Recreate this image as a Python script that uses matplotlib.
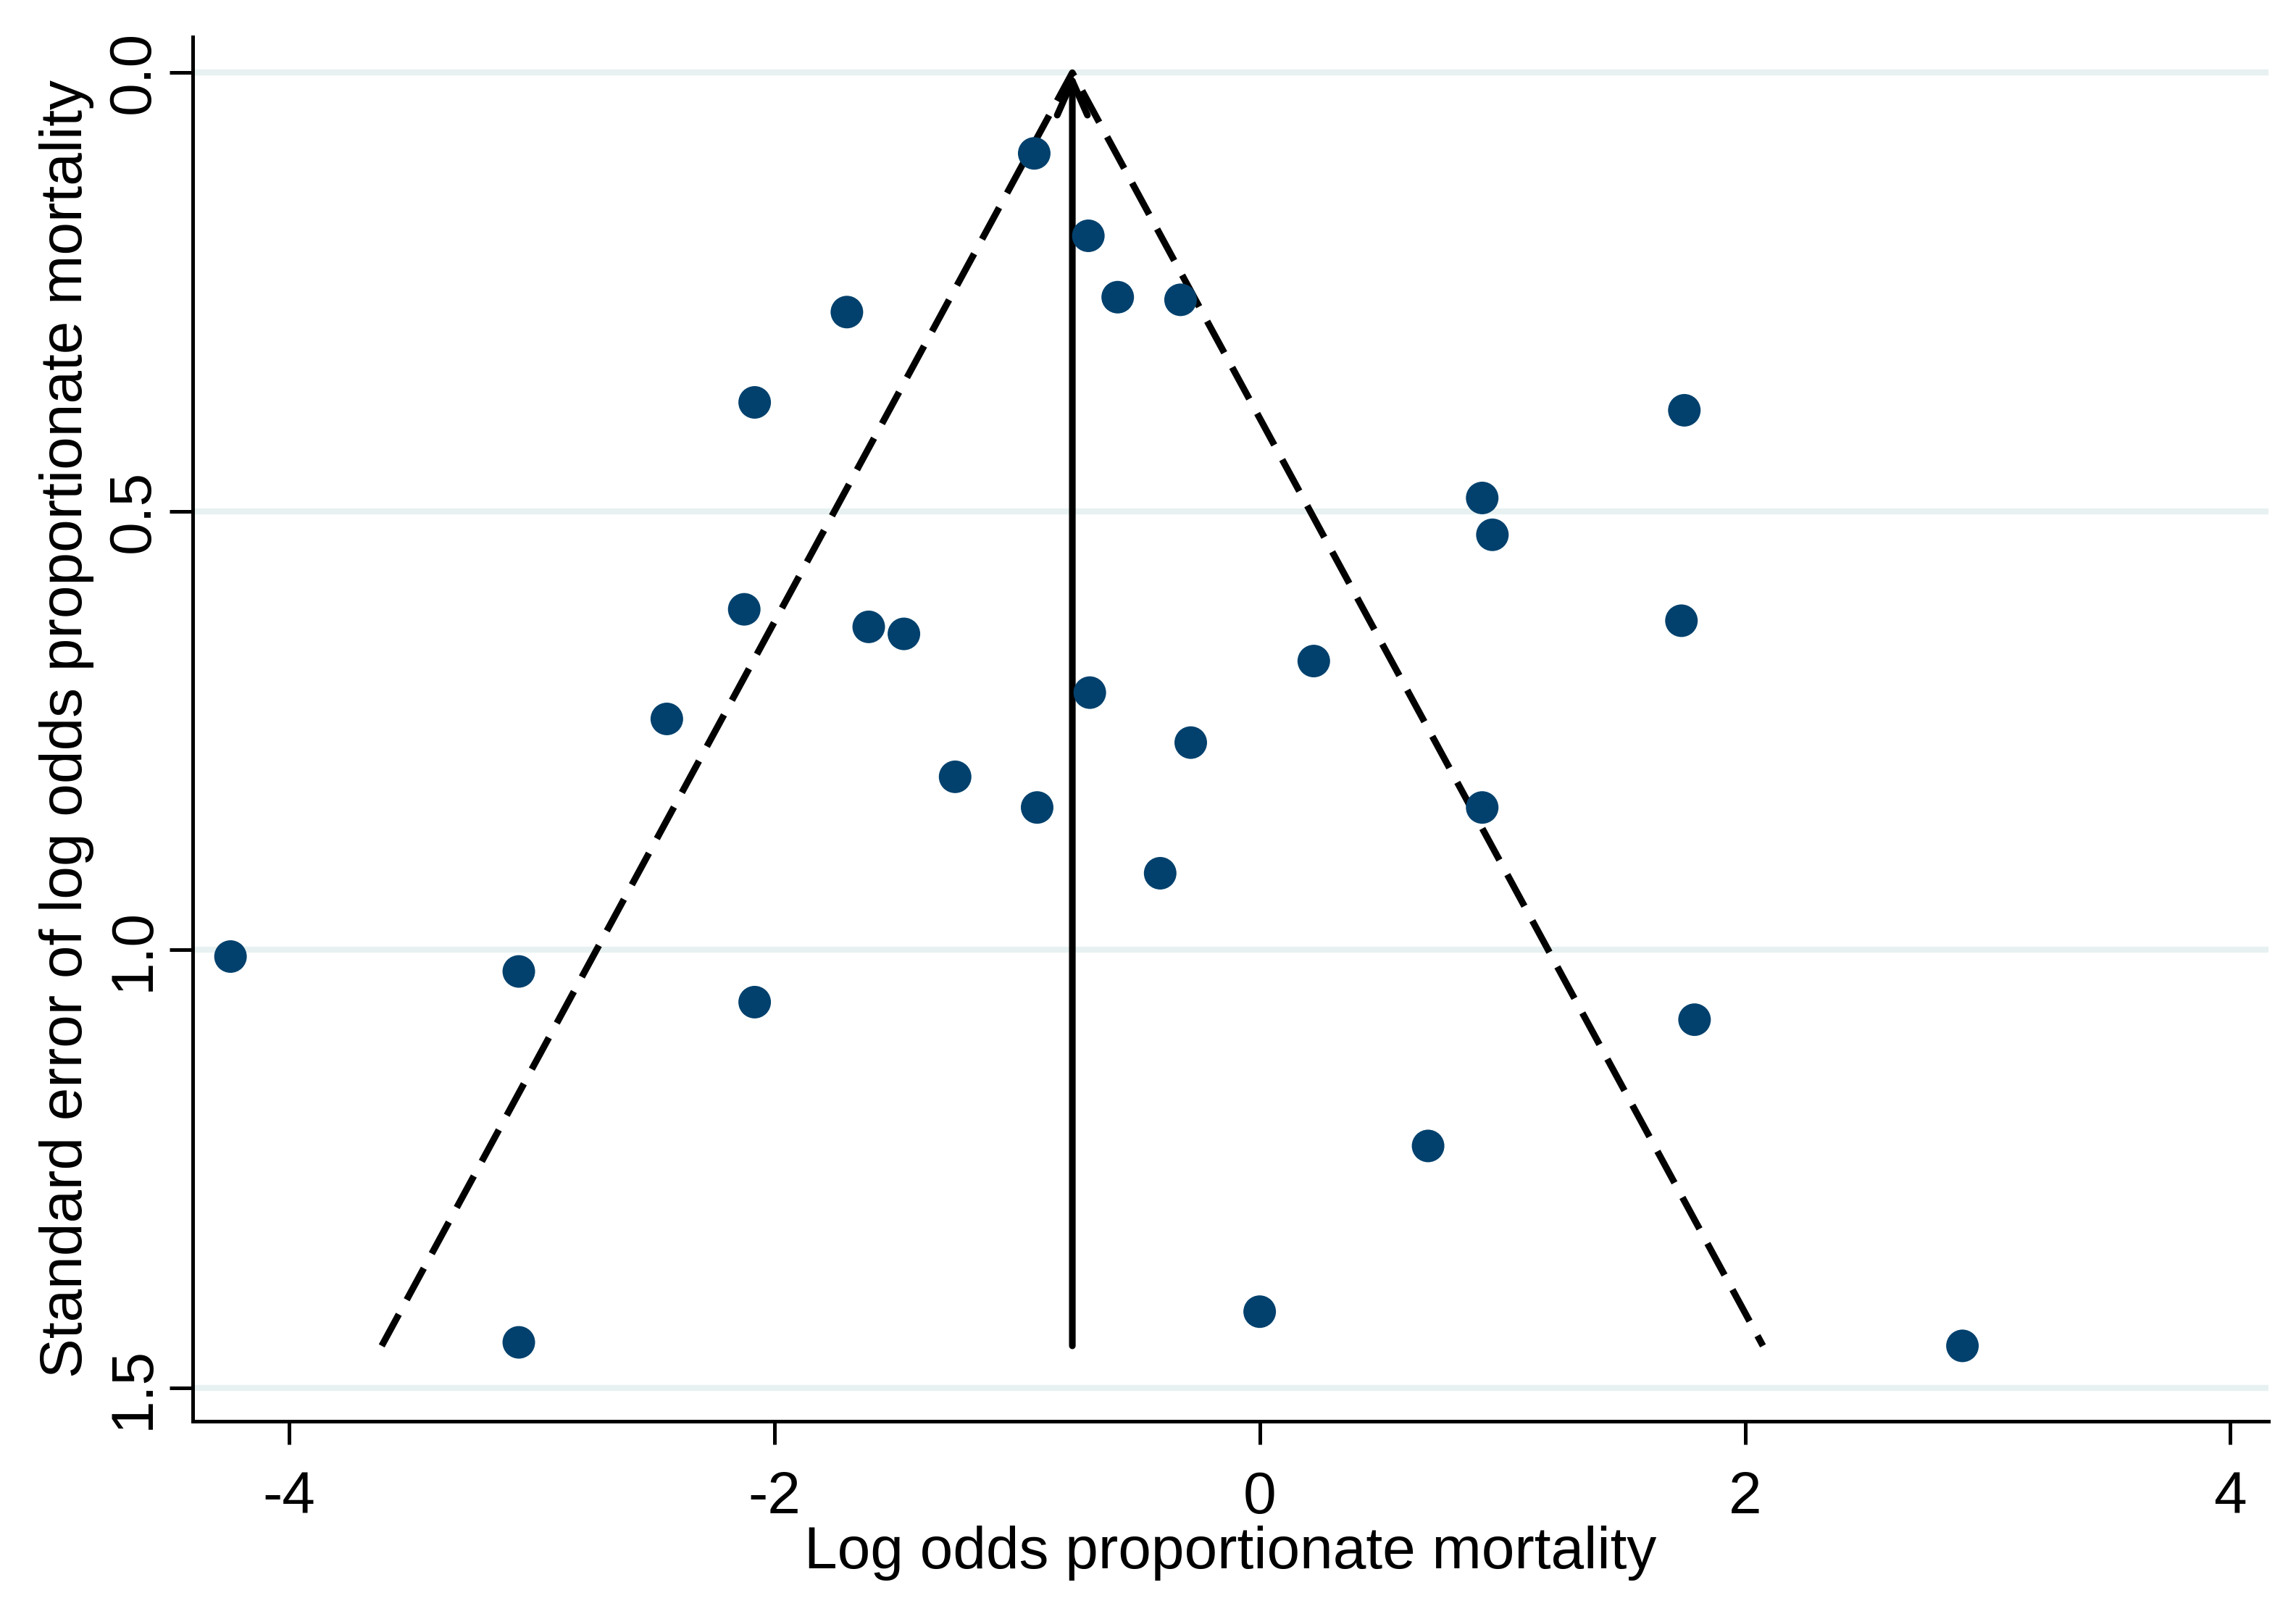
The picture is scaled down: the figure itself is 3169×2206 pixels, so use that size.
import matplotlib
matplotlib.use("Agg")
import matplotlib.pyplot as plt
import numpy as np

# Study estimates (log odds) and their standard errors
log_odds = [-0.929, -0.706, -0.585, -0.326, -1.701, -2.081, 1.750, 0.917, 0.959,
            -2.124, -1.611, -1.466, 1.738, 0.223, -0.700, -2.443, -0.284, -1.255,
            -0.917, 0.917, -0.410, -4.241, -3.053, -2.081, 1.792, 0.694, 0.000,
            -3.053, 2.896]
std_err = [0.092, 0.186, 0.256, 0.259, 0.273, 0.376, 0.385, 0.485, 0.527,
           0.612, 0.632, 0.640, 0.625, 0.671, 0.707, 0.737, 0.764, 0.803,
           0.838, 0.838, 0.913, 1.008, 1.025, 1.060, 1.080, 1.224, 1.413,
           1.448, 1.452]

pooled = -0.772
se_max = 1.452
z = 1.96

x_ticks = [-4, -2, 0, 2, 4]
x_ticklabels = ["-4", "-2", "0", "2", "4"]
y_ticks = [0.0, 0.5, 1.0, 1.5]
y_ticklabels = ["0.0", "0.5", "1.0", "1.5"]

plt.rcParams['font.family'] = ['Liberation Sans', 'DejaVu Sans']

fig = plt.figure(figsize=(15.845, 11.03), dpi=200)
ax = fig.add_axes([0.0838, 0.1106, 0.9042, 0.8664])

ax.set_xlim(-4.398, 4.157)
ax.set_ylim(1.538, -0.041)

for yt in y_ticks:
    ax.axhline(yt, color='#e7f1f1', lw=3.0, zorder=0)

# pseudo 95% confidence limits
ax.plot([pooled - z * se_max, pooled, pooled + z * se_max], [se_max, 0, se_max],
        color='black', lw=3.3, dashes=(5.4, 2.5), dash_capstyle='butt', zorder=2)

# pooled estimate arrow
ax.annotate('', xy=(pooled, 0), xytext=(pooled, se_max),
            arrowprops=dict(arrowstyle='->, head_length=17, head_width=7.5',
                            mutation_scale=1, lw=3.3, color='black',
                            shrinkA=0, shrinkB=0, capstyle='round'), zorder=3)

ax.scatter(log_odds, std_err, s=262, color='#02416d', edgecolors='none', zorder=4)

for side in ['top', 'right']:
    ax.spines[side].set_visible(False)
for side in ['left', 'bottom']:
    ax.spines[side].set_linewidth(1.8)

ax.set_xticks(x_ticks)
ax.set_xticklabels(x_ticklabels)
ax.set_yticks(y_ticks)
ax.set_yticklabels(y_ticklabels, rotation=90, va='center')
ax.tick_params(axis='both', length=11.5, width=1.8, labelsize=29.5)
ax.tick_params(axis='x', pad=13)
ax.tick_params(axis='y', pad=4)

ax.set_xlabel('Log odds proportionate mortality', fontsize=29.5, labelpad=0)
ax.set_ylabel('Standard error of log odds proportionate mortality', fontsize=29.5, labelpad=6)

fig.savefig('out.png', dpi=200, facecolor='white')
